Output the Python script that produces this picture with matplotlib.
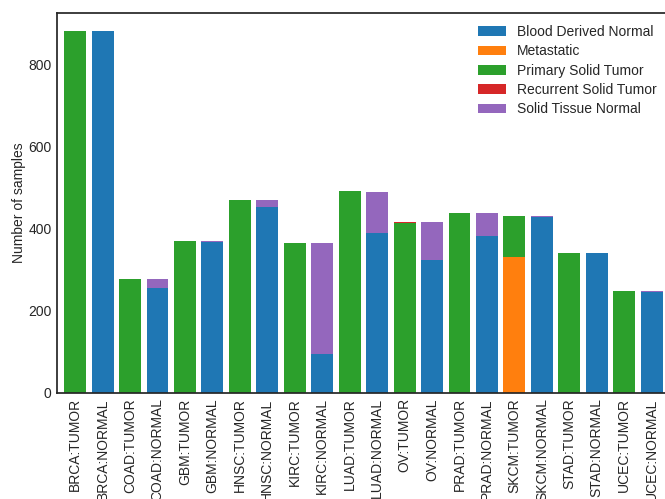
import numpy as np
import pandas as pd
import matplotlib
matplotlib.use("Agg")
import matplotlib.pyplot as plt
import seaborn as sns

sample_groups = ["BRCA:TUMOR", "BRCA:NORMAL", "COAD:TUMOR", "COAD:NORMAL",
                 "GBM:TUMOR", "GBM:NORMAL", "HNSC:TUMOR", "HNSC:NORMAL",
                 "KIRC:TUMOR", "KIRC:NORMAL", "LUAD:TUMOR", "LUAD:NORMAL",
                 "OV:TUMOR", "OV:NORMAL", "PRAD:TUMOR", "PRAD:NORMAL",
                 "SKCM:TUMOR", "SKCM:NORMAL", "STAD:TUMOR", "STAD:NORMAL",
                 "UCEC:TUMOR", "UCEC:NORMAL"]

blood_derived_normal = [0, 881, 0, 256, 0, 367, 0, 452, 0, 94, 0, 389,
                        0, 323, 0, 382, 0, 428, 0, 340, 0, 246]
metastatic = [0, 0, 0, 0, 0, 0, 0, 0, 0, 0, 0, 0,
              0, 0, 0, 0, 331, 0, 0, 0, 0, 0]
primary_solid_tumor = [881, 0, 277, 0, 370, 0, 469, 0, 365, 0, 491, 0,
                       413, 0, 438, 0, 99, 0, 340, 0, 248, 0]
recurrent_solid_tumor = [0, 0, 0, 0, 0, 0, 0, 0, 0, 0, 0, 0,
                         3, 0, 0, 0, 0, 0, 0, 0, 0, 0]
solid_tissue_normal = [0, 0, 0, 21, 0, 3, 0, 17, 0, 271, 0, 100,
                       0, 93, 0, 56, 0, 2, 0, 0, 0, 2]

sns.set_style("white")
plt.rcParams["font.family"] = ["Liberation Sans", "DejaVu Sans"]
plt.rcParams["axes.edgecolor"] = ".15"
plt.rcParams["axes.linewidth"] = 1.25
plt.rcParams["text.color"] = ".15"
plt.rcParams["xtick.color"] = ".15"
plt.rcParams["ytick.color"] = ".15"
plt.rcParams["axes.labelcolor"] = ".15"

counts = pd.DataFrame({
    "Blood Derived Normal": blood_derived_normal,
    "Metastatic": metastatic,
    "Primary Solid Tumor": primary_solid_tumor,
    "Recurrent Solid Tumor": recurrent_solid_tumor,
    "Solid Tissue Normal": solid_tissue_normal,
}, index=sample_groups)

fig = plt.figure(figsize=(6.65, 4.99), dpi=100)
ax = fig.add_axes([57.3 / 665, (499 - 392.7) / 499, 612.2 / 665, 380.0 / 499])
counts.plot(kind="bar", stacked=True, width=0.8, ax=ax, fontsize=10,
            linewidth=0, edgecolor="none")
ax.set_ylabel("Number of samples", fontsize=10, labelpad=2)
ax.set_xlabel("")
ax.tick_params(axis="both", length=0, pad=4)
ax.legend(loc="upper right", frameon=False, fontsize=10, labelspacing=0.38)

fig.savefig("out.png", dpi=100)
